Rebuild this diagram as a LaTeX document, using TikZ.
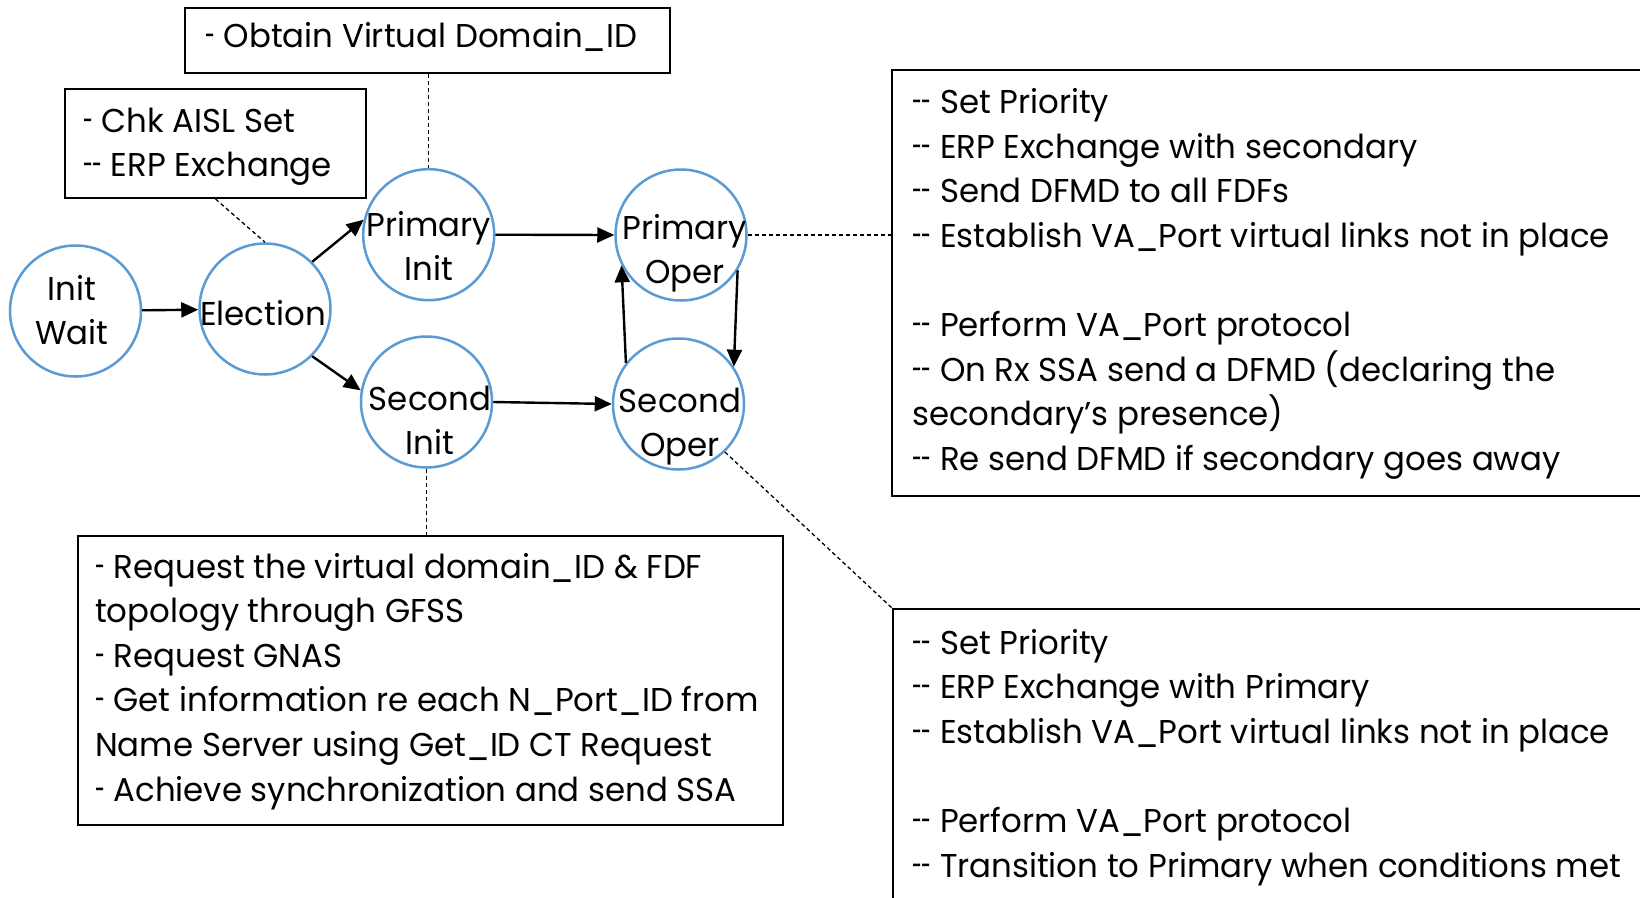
\documentclass[tikz,border=0pt]{standalone}
\usepackage{fontspec}
\setmainfont{Poppins}[Ligatures=TeXOff, FakeStretch=0.982]
\usetikzlibrary{arrows.meta}
\definecolor{stateblue}{RGB}{91,155,213}
% narrow bullet dashes for the note lists
\newcommand{\nhy}{\scalebox{0.55}[1]{-}}
\newcommand{\dhy}{\mbox{\nhy\kern-0.5pt\nhy}}
\begin{document}
\begin{tikzpicture}[x=1pt,y=-1pt,
  state/.style={circle, draw=stateblue, line width=2.5pt, minimum size=131pt, inner sep=0pt},
  lbl/.style={font=\fontsize{33}{44.6}\selectfont, inner sep=0pt, anchor=base, align=center},
  note/.style={draw=black, line width=2pt, rectangle, inner sep=0pt, anchor=north west},
  notetext/.style={font=\fontsize{33}{44.6}\selectfont, inner sep=0pt, anchor=base west, align=left},
  arr/.style={line width=2.4pt, -{Triangle[length=17pt,width=15pt]}},
  leader/.style={line width=1.3pt, dash pattern=on 4pt off 3pt}]
\useasboundingbox (0,0) rectangle (1640,897);
\clip (0,0) rectangle (1640,897);
\fill[white] (0,0) rectangle (1640,897);

% states
\node[state] (iw) at (75.5,311) {};
\node[state] (el) at (265,309) {};
\node[state] (pi) at (428.7,234.7) {};
\node[state] (si) at (426.5,402) {};
\node[state] (po) at (681,235) {};
\node[state] (so) at (678.5,404) {};

% state names (positioned on the baseline of their last line)
\node[lbl] (iwT) at (72,344.6) {Init\\Wait};
\node[lbl] (elT) at (263,325) {Election};
\node[lbl] (piT) at (429,280.6) {Primary\\Init};
\node[lbl] (siT) at (430,454.6) {Second\\Init};
\node[lbl] (poT) at (685,283.6) {Primary\\Oper};
\node[lbl] (soT) at (680,456.6) {Second\\Oper};

% note boxes
\node[note, minimum width=485pt, minimum height=65pt] (tb) at (184,7) {};
\node[note, minimum width=301pt, minimum height=109pt] (cb) at (64,88) {};
\node[note, minimum width=705pt, minimum height=289pt] (bb) at (77,535) {};
\node[note, minimum width=779pt, minimum height=426pt] (b1) at (891,69) {};
\node[note, minimum width=778pt, minimum height=322pt] (b2) at (892,608) {};

\node[notetext] (tbT) at (205,47) {\nhy{} Obtain Virtual Domain\_ID};
\node[notetext] (cbT) at (83,176.6) {\nhy{} Chk AISL Set\\\dhy{} ERP Exchange};
\node[notetext] (bbT) at (95,801) {\nhy{} Request the virtual domain\_ID \& FDF\\topology through GFSS\\\nhy{} Request GNAS\\\nhy{} Get information re each N\_Port\_ID from\\Name Server using Get\_ID CT Request\\\nhy{} Achieve synchronization and send SSA};
\node[notetext] (b1T) at (912,470.3) {\dhy{} Set Priority\\\dhy{} ERP Exchange with secondary\\\dhy{} Send DFMD to all FDFs\\\dhy{} Establish VA\_Port virtual links not in place\\[44.6pt]\dhy{} Perform VA\_Port protocol\\\dhy{} On Rx SSA send a DFMD (declaring the\\secondary’s presence)\\\dhy{} Re send DFMD if secondary goes away};
\node[notetext] (b2T) at (912,877) {\dhy{} Set Priority\\\dhy{} ERP Exchange with Primary\\\dhy{} Establish VA\_Port virtual links not in place\\[44.6pt]\dhy{} Perform VA\_Port protocol\\\dhy{} Transition to Primary when conditions met};

% transitions
\draw[arr] (iw) -- (el);
\draw[arr] (el.45) -- (pi.167);
\draw[arr] (el.-45) -- (si.170);
\draw[arr] (pi.east) -- (po.west);
\draw[arr] (si.east) -- (so.west);
\draw[arr] (so.142) -- (po.207);
\draw[arr] (po.-32) -- (so.34);

% leaders from states to notes
\draw[leader] (pi.north |- tb.south) -- (pi.north);
\draw[leader] (cb.south) -- (el.north);
\draw[leader] (po.east) -- (po.east -| b1.west);
\draw[leader] (si.south) -- (si.south |- bb.north);
\draw[leader] (so.-46) -- (b2.north west);
\end{tikzpicture}
\end{document}
